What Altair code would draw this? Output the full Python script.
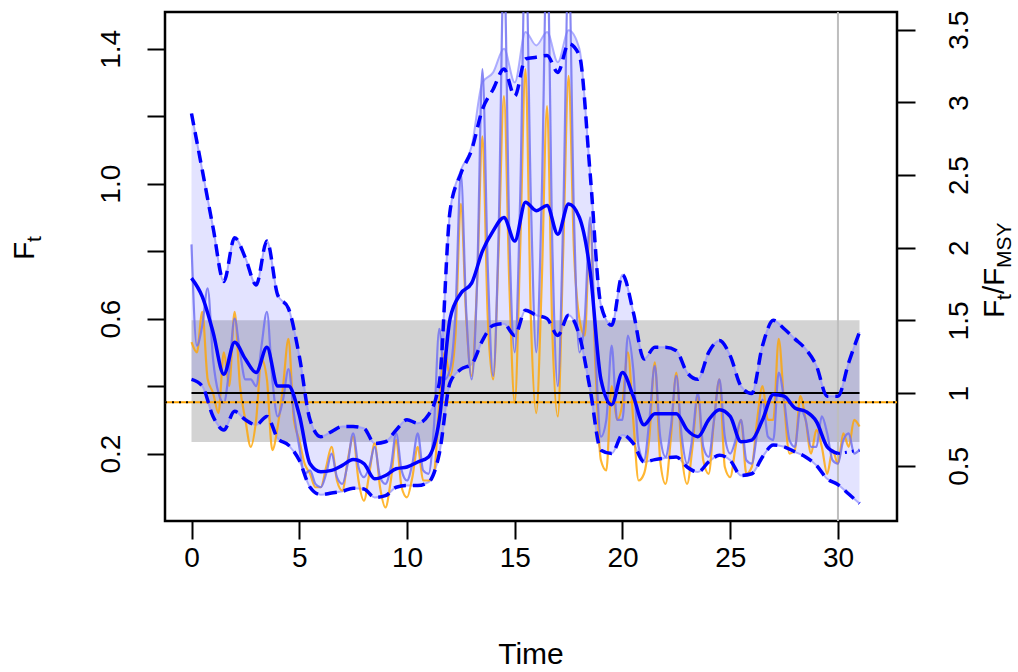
import altair as alt
import pandas as pd

FONT = "Liberation Sans"

# ---------------- data ----------------
t_half = [i * 0.5 for i in range(63)]            # 0 .. 31 by 0.5
ci_up = [1.208, 1.04, 0.87, 0.71, 0.84, 0.78, 0.70, 0.83, 0.67, 0.63,
         0.49, 0.30, 0.25, 0.265, 0.28, 0.28, 0.275, 0.23, 0.235, 0.27,
         0.30, 0.29, 0.315, 0.41, 0.92, 1.03, 1.10, 1.22, 1.28, 1.34,
         1.26, 1.37, 1.375, 1.38, 1.33, 1.415, 1.38, 1.03, 0.64, 0.58,
         0.73, 0.62, 0.48, 0.515, 0.515, 0.505, 0.44, 0.42, 0.50, 0.535,
         0.49, 0.40, 0.378, 0.52, 0.595, 0.57, 0.54, 0.51, 0.46, 0.37,
         0.37, 0.47, 0.56]
ci_lo = [0.42, 0.40, 0.31, 0.27, 0.325, 0.30, 0.285, 0.31, 0.245, 0.225,
         0.18, 0.10, 0.078, 0.083, 0.088, 0.097, 0.095, 0.07, 0.075, 0.10,
         0.105, 0.105, 0.115, 0.20, 0.41, 0.45, 0.465, 0.535, 0.58, 0.585,
         0.55, 0.625, 0.61, 0.60, 0.55, 0.61, 0.55, 0.39, 0.21, 0.20,
         0.255, 0.23, 0.175, 0.182, 0.187, 0.19, 0.16, 0.145, 0.175, 0.195,
         0.18, 0.135, 0.14, 0.19, 0.225, 0.22, 0.205, 0.19, 0.165, 0.125,
         0.108, 0.08, 0.052]
band_up = [1.208, 1.04, 0.87, 0.71, 0.84, 0.78, 0.70, 0.83, 0.67, 0.63,
           0.49, 0.30, 0.25, 0.265, 0.28, 0.28, 0.275, 0.23, 0.235, 0.27,
           0.30, 0.29, 0.315, 0.41, 0.92, 1.04, 1.11, 1.30, 1.33, 1.40,
           1.30, 1.45, 1.41, 1.45, 1.36, 1.455, 1.40, 1.03, 0.64, 0.58,
           0.73, 0.62, 0.48, 0.515, 0.515, 0.505, 0.44, 0.42, 0.50, 0.535,
           0.49, 0.40, 0.378, 0.52, 0.595, 0.57, 0.54, 0.51, 0.46, 0.37,
           0.37, 0.47, 0.56]
f_smooth = [0.72, 0.665, 0.56, 0.435, 0.53, 0.48, 0.44, 0.515, 0.40, 0.40,
            0.315, 0.17, 0.146, 0.15, 0.165, 0.182, 0.17, 0.125, 0.135, 0.155,
            0.16, 0.175, 0.19, 0.30, 0.60, 0.675, 0.705, 0.80, 0.86, 0.90,
            0.83, 0.945, 0.92, 0.935, 0.85, 0.94, 0.90, 0.74, 0.42, 0.345,
            0.44, 0.37, 0.285, 0.318, 0.318, 0.318, 0.27, 0.25, 0.30, 0.33,
            0.31, 0.235, 0.24, 0.30, 0.375, 0.37, 0.335, 0.325, 0.295, 0.22,
            0.20]
tail_t = [30.0, 30.5, 31.0]
tail_f = [0.20, 0.205, 0.21]

t_q = [i * 0.25 for i in range(125)]               # 0 .. 31 by 0.25
f_seas = [0.82, 0.52, 0.58, 0.69,  0.48, 0.38, 0.35, 0.45,
          0.60, 0.50, 0.42, 0.42,  0.40, 0.52, 0.62, 0.42,
          0.31, 0.36, 0.45, 0.32,  0.22, 0.14, 0.15, 0.11,
          0.10, 0.14, 0.20, 0.13,  0.11, 0.17, 0.26, 0.16,
          0.13, 0.16, 0.22, 0.13,  0.11, 0.16, 0.26, 0.15,
          0.12, 0.17, 0.26, 0.15,  0.14, 0.28, 0.57, 0.42,
          0.45, 0.62, 1.03, 0.62,  0.42, 0.70, 1.34, 0.75,
          0.43, 0.85, 1.65, 0.85,  0.50, 0.95, 1.70, 0.95,
          0.50, 0.95, 1.70, 0.80,  0.40, 0.90, 1.65, 0.90,
          0.50, 0.60, 0.90, 0.50,  0.25, 0.30, 0.52, 0.30,
          0.30, 0.55, 0.45, 0.22,  0.18, 0.30, 0.46, 0.25,
          0.19, 0.28, 0.43, 0.25,  0.17, 0.25, 0.38, 0.22,
          0.19, 0.30, 0.42, 0.25,  0.20, 0.24, 0.30, 0.18,
          0.17, 0.26, 0.36, 0.25,  0.24, 0.44, 0.36, 0.24,
          0.22, 0.33, 0.30, 0.22,  0.22, 0.31, 0.26, 0.18,
          0.17, 0.24, 0.26, 0.20,  0.21]
f_true = [0.53, 0.50, 0.62, 0.42,  0.38, 0.32, 0.50, 0.40,
          0.62, 0.40, 0.30, 0.22,  0.30, 0.48, 0.42, 0.21,
          0.28, 0.40, 0.54, 0.30,  0.24, 0.17, 0.14, 0.10,
          0.10, 0.16, 0.22, 0.12,  0.09, 0.18, 0.25, 0.12,
          0.06, 0.14, 0.23, 0.10,  0.04, 0.12, 0.24, 0.10,
          0.07, 0.13, 0.22, 0.12,  0.12, 0.14, 0.35, 0.50,
          0.43, 0.55, 0.94, 0.60,  0.43, 0.70, 1.14, 0.60,
          0.42, 0.80, 1.26, 0.70,  0.35, 0.80, 1.34, 0.60,
          0.32, 0.70, 1.23, 0.55,  0.31, 0.80, 1.32, 0.80,
          0.60, 0.55, 0.88, 0.45,  0.18, 0.15, 0.40, 0.30,
          0.35, 0.50, 0.30, 0.12,  0.14, 0.25, 0.47, 0.18,
          0.11, 0.25, 0.44, 0.20,  0.11, 0.22, 0.37, 0.18,
          0.14, 0.30, 0.42, 0.16,  0.13, 0.22, 0.30, 0.14,
          0.16, 0.30, 0.40, 0.30,  0.30, 0.54, 0.35, 0.20,
          0.21, 0.37, 0.30, 0.20,  0.27, 0.22, 0.14, 0.21,
          0.17, 0.26, 0.22, 0.30,  0.28]

fmsy_ci = [0.234, 0.595]
band_t = [0.0, 31.0]
fmsy_est = 0.3796
fmsy_true = 0.352
t_last_obs = 30.0

x_ticks = [0, 5, 10, 15, 20, 25, 30]
y_ticks = [0.2, 0.4, 0.6, 0.8, 1.0, 1.2, 1.4]
y_labelled = ["0.2", "0.6", "1.0", "1.4"]          # R drops the crowded ones
r_ticks = [0.5, 1.0, 1.5, 2.0, 2.5, 3.0, 3.5]

# ---------------- tables ----------------
df_half = pd.DataFrame({"t": t_half, "up": ci_up, "lo": ci_lo, "bup": band_up})
df_smooth = pd.DataFrame({"t": t_half[:len(f_smooth)], "f": f_smooth})
df_tail = pd.DataFrame({"t": tail_t, "f": tail_f})
df_q = pd.DataFrame({"t": t_q, "seas": f_seas, "true": f_true})
df_band = pd.DataFrame({"t0": [band_t[0]], "t1": [band_t[1]],
                        "lo": [fmsy_ci[0]], "hi": [fmsy_ci[1]]})
df_fmsy = pd.DataFrame({"t0": [band_t[0]], "t1": [band_t[1]], "f": [fmsy_est]})
df_ftrue = pd.DataFrame({"f": [fmsy_true]})
df_vline = pd.DataFrame({"t": [t_last_obs]})
df_r = pd.DataFrame({"r": r_ticks})
df_one = pd.DataFrame({"a": [0]})

# ---------------- geometry ----------------
W, H = 732, 509
PAD = {"left": 165, "top": 12, "right": 121, "bottom": 151}

x_scale = alt.Scale(domain=[-1.23, 32.74], nice=False, zero=False)
y_scale = alt.Scale(domain=[0.0, 1.509], nice=False, zero=False)
r_scale = alt.Scale(domain=[0.12, 3.622], nice=False, zero=False)

common_axis = dict(title=None, labelFont=FONT, labelFontSize=28, labelColor="black",
                   tickSize=18, tickWidth=2, tickColor="black", domain=False,
                   grid=False, labelOverlap=False, labelFlush=False)
x_axis = alt.Axis(values=x_ticks, labelPadding=27, labelBaseline="alphabetic",
                  **common_axis)
keep = " || ".join(f"format(datum.value, '.1f') == '{s}'" for s in y_labelled)
y_axis = alt.Axis(values=y_ticks, labelExpr=f"({keep}) ? format(datum.value, '.1f') : ''",
                  labelAngle=270, labelAlign="center",
                  labelBaseline="alphabetic", labelPadding=28, **common_axis)
r_axis = alt.Axis(values=r_ticks, format="~g", orient="right", labelAngle=270,
                  labelAlign="center", labelBaseline="alphabetic", labelPadding=52,
                  **common_axis)


def X(f):
    return alt.X(f, type="quantitative", scale=x_scale, axis=x_axis)


def Y(f):
    return alt.Y(f, type="quantitative", scale=y_scale, axis=y_axis)


BLUE = "#0000FF"

band = alt.Chart(df_band).mark_rect(color="#D3D3D3").encode(
    x=X("t0"), x2="t1", y=Y("lo"), y2="hi")

fill = alt.Chart(df_half).mark_area(color=BLUE, opacity=0.11, interpolate="monotone",
                                    clip=True).encode(x=X("t"), y=Y("bup"), y2="lo")

vline = alt.Chart(df_vline).mark_rule(color="#BEBEBE", strokeWidth=2).encode(
    x=X("t"), y=alt.value(0), y2=alt.value(H))

out_up = alt.Chart(df_half).mark_line(color="#9A9AFF", strokeWidth=2, opacity=0.8,
                                      interpolate="monotone", clip=True).encode(
    x=X("t"), y=Y("bup"))
out_lo = alt.Chart(df_half).mark_line(color="#9A9AFF", strokeWidth=2, opacity=0.8,
                                      interpolate="monotone", clip=True).encode(
    x=X("t"), y=Y("lo"))

true_line = alt.Chart(df_q).mark_line(color="#FFA500", strokeWidth=2.2, opacity=0.8,
                                      interpolate="monotone", clip=True).encode(
    x=X("t"), y=Y("true"))
seas_line = alt.Chart(df_q).mark_line(color="#7272F2", strokeWidth=2.2, opacity=0.85,
                                      interpolate="monotone", clip=True).encode(
    x=X("t"), y=Y("seas"))

fmsy_line = alt.Chart(df_fmsy).mark_rule(color="black", strokeWidth=2).encode(
    x=X("t0"), x2="t1", y=Y("f"))

ftrue_line = alt.Chart(df_ftrue).mark_rule(color="#FFA500", strokeWidth=2).encode(
    x=alt.value(0), x2=alt.value(W), y=Y("f"))
ftrue_dots = alt.Chart(df_ftrue).mark_rule(color="black", strokeWidth=2,
                                           strokeDash=[2, 5]).encode(
    x=alt.value(0), x2=alt.value(W), y=Y("f"))

dash_up = alt.Chart(df_half).mark_line(color=BLUE, strokeWidth=3.5, strokeDash=[12, 7],
                                       interpolate="monotone", clip=True).encode(
    x=X("t"), y=Y("up"))
dash_lo = alt.Chart(df_half).mark_line(color=BLUE, strokeWidth=3.5, strokeDash=[12, 7],
                                       interpolate="monotone", clip=True).encode(
    x=X("t"), y=Y("lo"))

thick = alt.Chart(df_smooth).mark_line(color=BLUE, strokeWidth=3.5,
                                       interpolate="monotone", clip=True).encode(
    x=X("t"), y=Y("f"))
tail = alt.Chart(df_tail).mark_line(color=BLUE, strokeWidth=3, strokeDash=[2, 5],
                                    interpolate="monotone", clip=True).encode(
    x=X("t"), y=Y("f"))


def txt(s, x, y, size=30, angle=0, align="center", baseline="alphabetic"):
    return alt.Chart(df_one).mark_text(text=s, font=FONT, fontSize=size, angle=angle,
                                       align=align, baseline=baseline,
                                       color="black").encode(
        x=alt.value(x), y=alt.value(y))


# titles (page coords minus padding)
time_title = txt("Time", 366, 652)
lx, ly = -131, 248
left_title = alt.layer(txt("F", lx, ly, 30, 270, "left"),
                       txt("t", lx + 7, ly - 18, 21, 270, "left"))
rx, ry = 839, 306
right_title = alt.layer(
    txt("F", rx, ry, 30, 270, "left"),
    txt("t", rx + 7, ry - 18, 21, 270, "left"),
    txt("/", rx, ry - 24, 30, 270, "left"),
    txt("F", rx, ry - 32, 30, 270, "left"),
    txt("MSY", rx + 7, ry - 50, 21, 270, "left"),
)

main = alt.layer(band, fill, vline, out_up, out_lo, true_line, seas_line,
                 fmsy_line, ftrue_line, ftrue_dots, dash_up, dash_lo, thick, tail,
                 time_title, left_title, right_title)

right = alt.Chart(df_r).mark_point(opacity=0).encode(
    y=alt.Y("r:Q", scale=r_scale, axis=r_axis))

chart = alt.layer(main, right).resolve_scale(y="independent").properties(
    width=W, height=H, padding=PAD, autosize=alt.AutoSizeParams(type="none"),
    background="white"
).configure_view(stroke="black", strokeWidth=2.5)

chart.save("out.html", embed_options={"renderer": "svg", "actions": False})
